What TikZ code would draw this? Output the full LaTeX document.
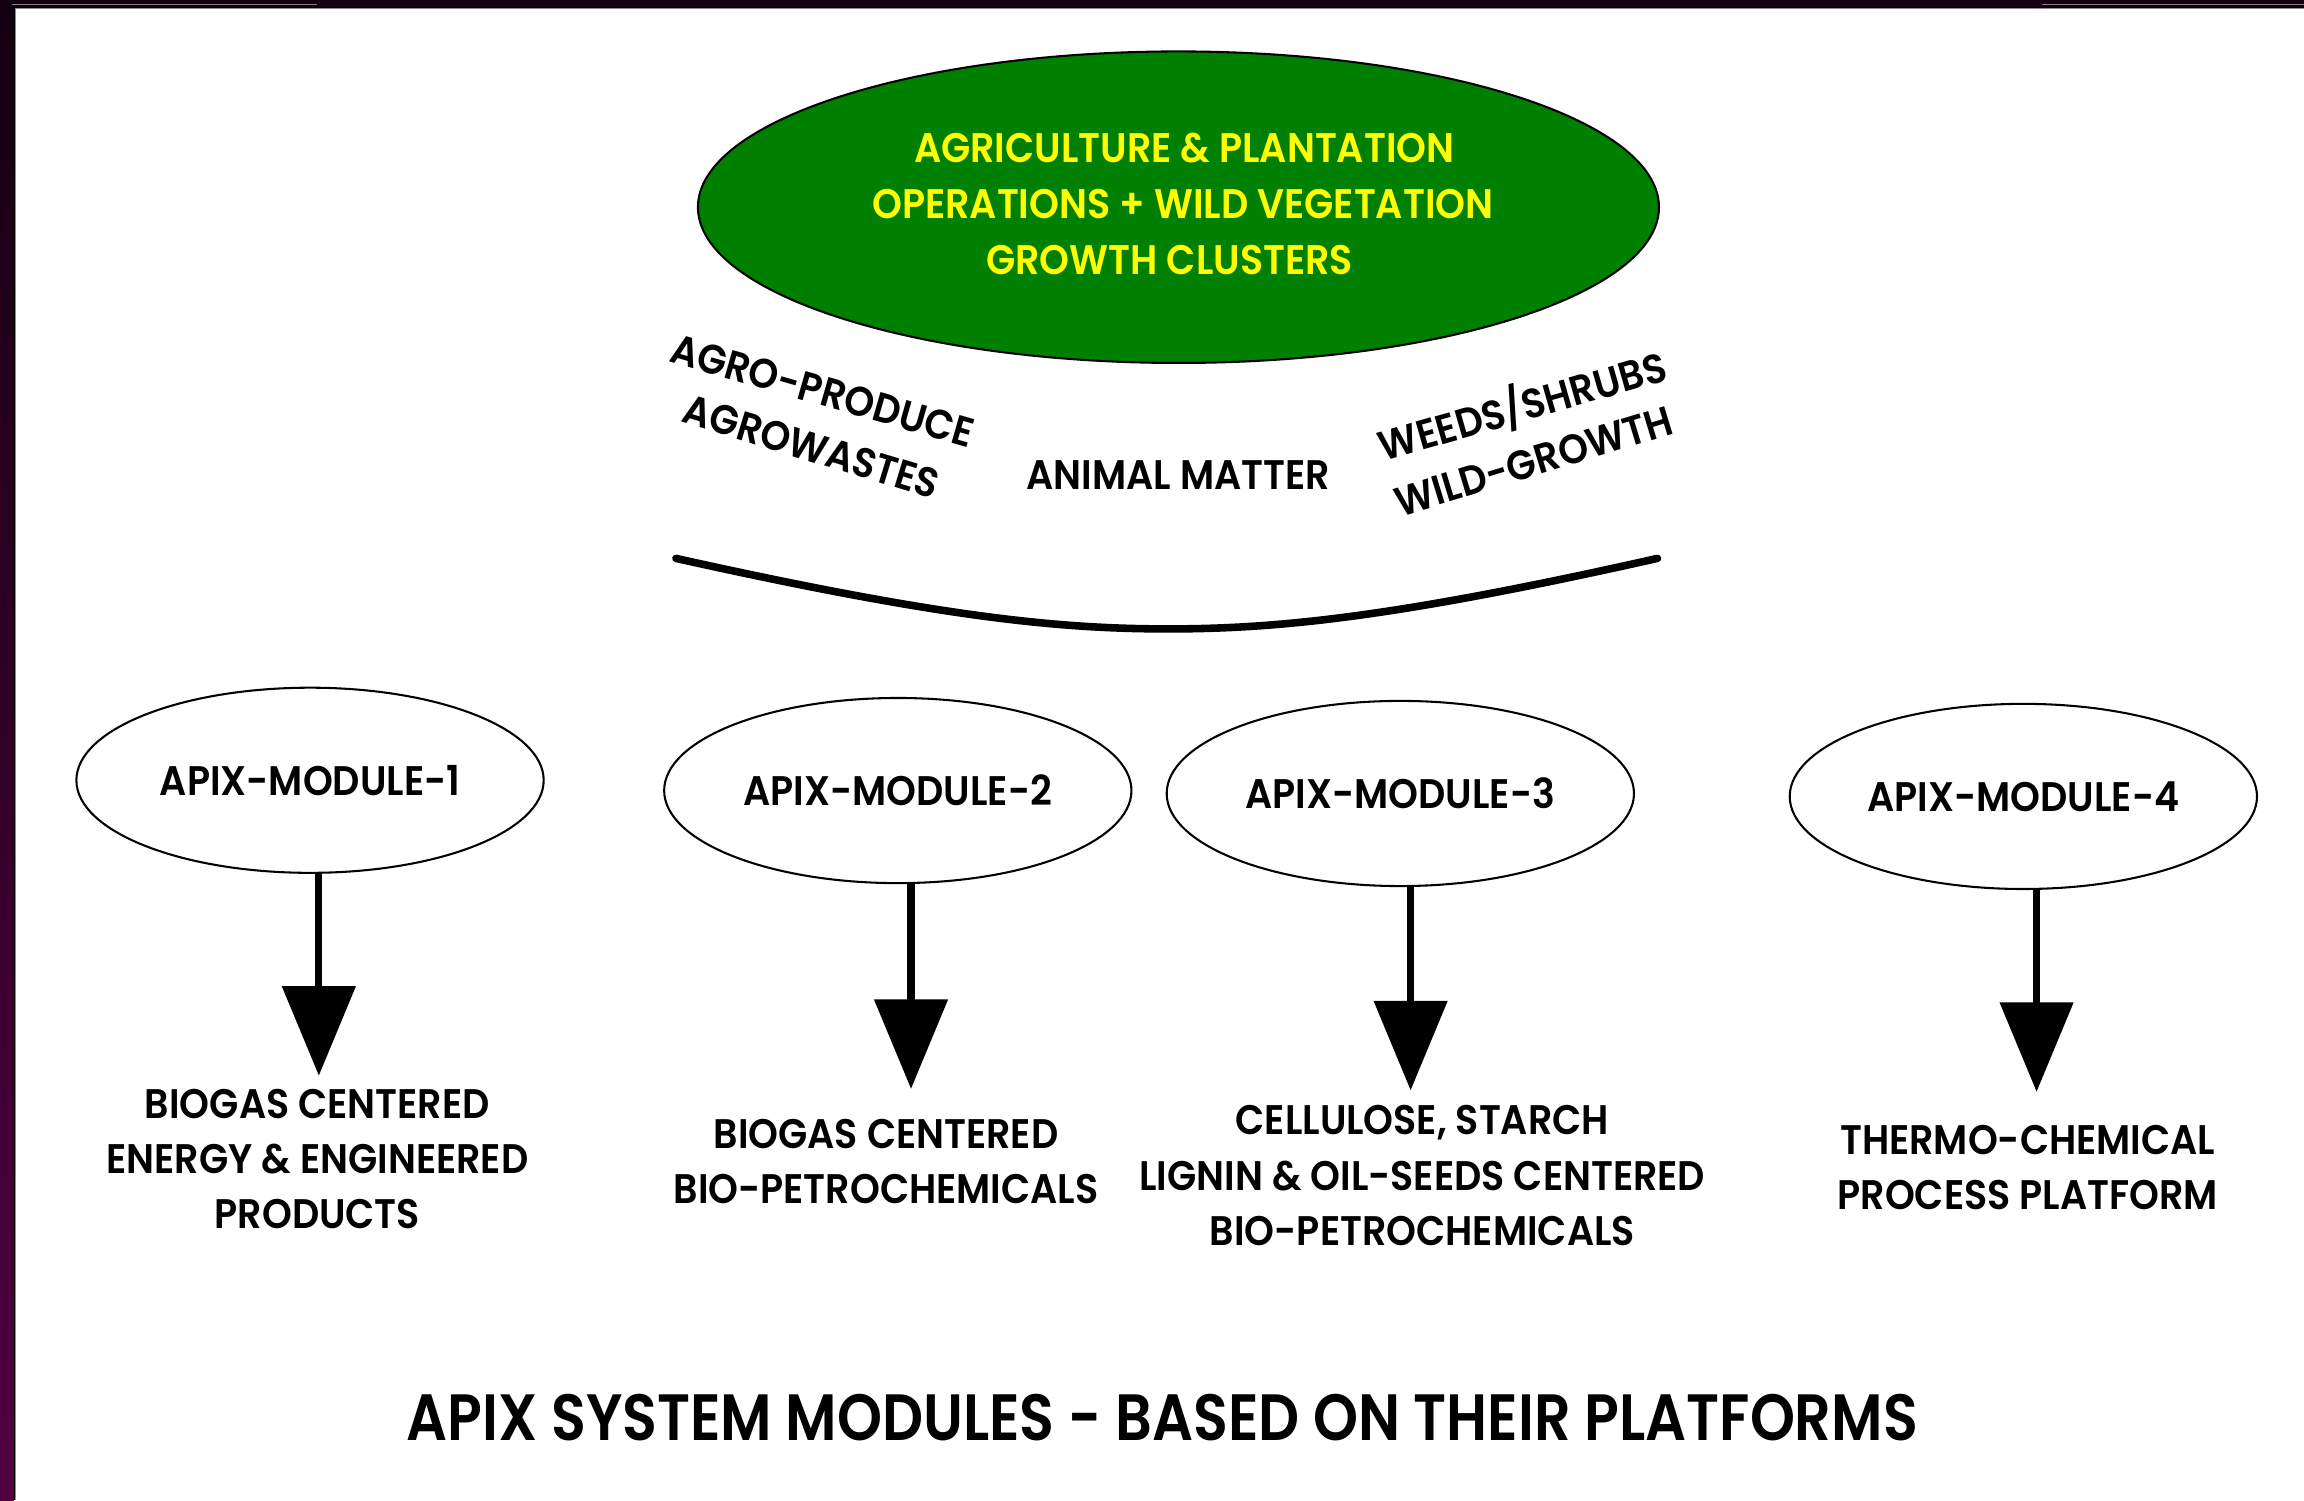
\documentclass[tikz,border=0pt]{standalone}
\usepackage{fontspec}
\setmainfont{Poppins}
\newfontfamily\narrowf{Poppins}[FakeStretch=0.92, BoldFont={Poppins SemiBold}]
\newfontfamily\titlef{Poppins}[FakeStretch=0.875, BoldFont={Poppins SemiBold}]
\usetikzlibrary{shapes.geometric,arrows.meta}
\definecolor{leafgreen}{RGB}{0,128,0}
\definecolor{sunyellow}{RGB}{255,255,0}
\definecolor{bartop}{RGB}{20,0,16}
\definecolor{barbot}{RGB}{82,0,64}
\begin{document}
\begin{tikzpicture}[x=0.015cm,y=-0.015cm,
  txt/.style={font=\narrowf\fontsize{12}{16}\selectfont\bfseries, align=center, inner sep=0pt},
  modell/.style={ellipse, draw=black, line width=0.6pt, minimum width=4.77cm, minimum height=1.89cm, inner sep=0pt, font=\narrowf\fontsize{12}{16}\selectfont\bfseries},
  flow/.style={line width=2.1pt, -{Triangle[length=26pt,width=21pt]}},
]
\useasboundingbox (0,0) rectangle (1568,1021);
\fill[white] (0,0) rectangle (1568,1021);
% borders
\shade[top color=bartop, bottom color=barbot] (0,0) rectangle (9.5,1021);
\fill[black] (9.5,0) rectangle (10.3,1021);
\fill[black!45] (10.3,0) rectangle (11,1021);
\fill[bartop] (0,0) rectangle (1568,5);
\fill[black] (0,5) rectangle (1568,5.6);
\fill[black!45] (10,5.6) rectangle (1568,6.3);
\fill[black!50] (8,3) rectangle (216,3.6);
\fill[black!50] (1390,3) rectangle (1568,3.6);
% source
\node[ellipse, draw=black, line width=0.6pt, fill=leafgreen, minimum width=9.81cm, minimum height=3.18cm, inner sep=0pt] (src) at (802,141) {};
\node[txt, text=sunyellow] (s1) at (806,101) {AGRICULTURE \& PLANTATION};
\node[txt, text=sunyellow] (s2) at (805,139) {OPERATIONS + WILD VEGETATION};
\node[txt, text=sunyellow] (s3) at (796,177) {GROWTH CLUSTERS};
% material labels
\node[txt, rotate=-16] (l1) at (560,266) {AGRO-PRODUCE};
\node[txt, rotate=-17] (l2) at (552,304) {AGROWASTES};
\node[txt] (l3) at (802,323) {ANIMAL MATTER};
\node[txt, rotate=16] (l4) at (1036,276) {WEEDS/SHRUBS};
\node[txt, rotate=17] (l5) at (1044,314) {WILD-GROWTH};
% brace curve
\coordinate (cL) at (460,380);
\coordinate (cM) at (795,428);
\coordinate (cR) at (1128,380);
\draw[line width=2.2pt, line cap=round] (cL) .. controls (640,420) and (720,428) .. (cM) .. controls (870,428) and (950,420) .. (cR);
% modules
\node[modell] (m1) at (211,531) {APIX-MODULE-1};
\node[modell] (m2) at (611,538) {APIX-MODULE-2};
\node[modell] (m3) at (953,540) {APIX-MODULE-3};
\node[modell] (m4) at (1377,542) {APIX-MODULE-4};
% outputs
\node[txt, anchor=north] (o1) at (216,741) {BIOGAS CENTERED\\ENERGY \& ENGINEERED\\PRODUCTS};
\node[txt, anchor=north] (o2) at (603,761) {BIOGAS CENTERED\\BIO-PETROCHEMICALS};
\node[txt, anchor=north] (o3) at (968,752) {CELLULOSE, STARCH\\LIGNIN \& OIL-SEEDS CENTERED\\BIO-PETROCHEMICALS};
\node[txt, anchor=north] (o4) at (1380,765) {THERMO-CHEMICAL\\PROCESS PLATFORM};
% arrow ends
\coordinate (t1) at (217,732);
\coordinate (t2) at (620,741);
\coordinate (t3) at (960,742);
\coordinate (t4) at (1386,743);
\draw[flow] (m1.south -| t1) -- (t1);
\draw[flow] (m2.south -| t2) -- (t2);
\draw[flow] (m3.south -| t3) -- (t3);
\draw[flow] (m4.south -| t4) -- (t4);
% title
\node[font=\titlef\fontsize{19}{23}\selectfont\bfseries, inner sep=0pt] (title) at (791,965) {APIX SYSTEM MODULES - BASED ON THEIR PLATFORMS};
\end{tikzpicture}
\end{document}
